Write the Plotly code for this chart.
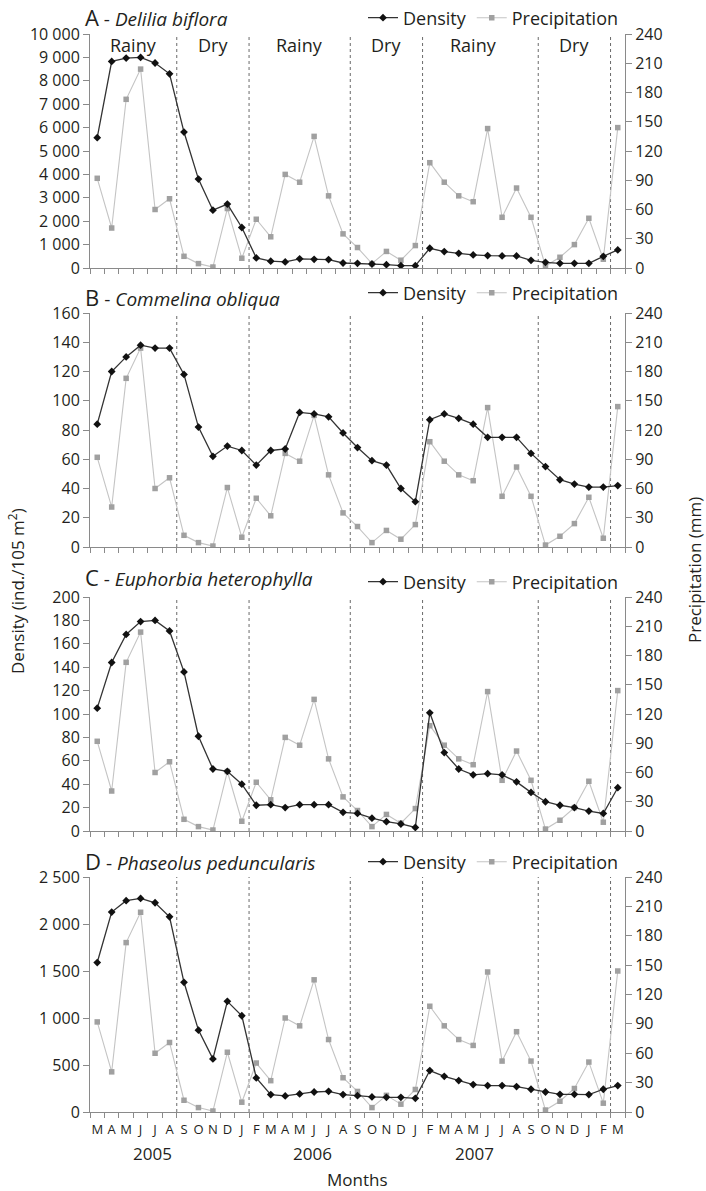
import plotly.graph_objects as go

# ---------------- data ----------------
month_labels = ["M", "A", "M", "J", "J", "A", "S", "O", "N", "D", "J", "F",
                "M", "A", "M", "J", "J", "A", "S", "O", "N", "D", "J", "F",
                "M", "A", "M", "J", "J", "A", "S", "O", "N", "D", "J", "F", "M"]
years = ["2005", "2006", "2007"]
year_pos = [3.8, 14.9, 26.1]

precipitation = [92, 41, 173, 204, 60, 71, 12, 4.5, 1, 61, 10, 50, 32, 96, 88, 135, 74, 35,
                 21, 4.5, 17, 8, 23, 108, 88, 74, 68, 143, 52, 82, 52, 2, 11, 24, 51, 9, 144]

density_a = [5570, 8830, 8970, 9000, 8760, 8300, 5810, 3800, 2470, 2730, 1730, 430, 290, 260,
             390, 370, 360, 214, 200, 171, 143, 100, 100, 843, 700, 629, 557, 529, 514, 514,
             329, 243, 200, 200, 200, 500, 771]
density_b = [84, 120, 130, 138, 136, 136, 118, 82, 62, 69, 66, 56, 66, 67, 92, 91, 89, 78, 68,
             59, 56, 40, 31, 87, 91, 88, 84, 75, 75, 75, 64, 55, 46, 43, 41, 41, 42]
density_c = [105, 144, 168, 179, 180, 171, 136, 81, 53, 51, 40, 22, 22.5, 20, 22.5, 22.5, 22.5,
             16, 15, 11, 8, 6, 3, 101, 67, 53, 48, 49, 48, 42, 33, 25, 22, 20, 17, 15, 37]
density_d = [1590, 2127, 2248, 2272, 2226, 2077, 1380, 871, 565, 1177, 1024, 363, 185, 171, 192,
             213, 220, 185, 174, 160, 156, 156, 146, 441, 380, 334, 292, 281, 281, 270, 242,
             213, 188, 188, 185, 242, 281]

panel_letters = ["A", "B", "C", "D"]
species = ["Delilia biflora", "Commelina obliqua", "Euphorbia heterophylla", "Phaseolus peduncularis"]
densities = [density_a, density_b, density_c, density_d]
density_max = [10000, 160, 200, 2500]
density_step = [1000, 20, 20, 500]
precip_max = 240
precip_step = 30

season_names = ["Rainy", "Dry", "Rainy", "Dry", "Rainy", "Dry"]
season_pos = [2.5, 8, 14, 20, 26, 33]
season_bounds = [5.5, 10.5, 17.5, 22.5, 30.5, 35.5]

# ---------------- layout geometry ----------------
W, H = 706, 1191
panel_px = [(34, 268), (313, 547), (597, 831), (877, 1112)]  # top, bottom in px
title_px = [17, 297, 577, 861]
legend_px = [18, 293, 582, 862]

def py(px):
    return 1 - px / H

def pxx(px):
    return (px - 90) / 535

FONT = "Open Sans"
TXT = "#231f20"
AX = "#8a8a8a"

x = list(range(len(month_labels)))
fig = go.Figure()
layout = dict(
    width=W, height=H,
    margin=dict(l=90, r=81, t=0, b=0, autoexpand=False),
    plot_bgcolor="white", paper_bgcolor="white",
    font=dict(family=FONT, color=TXT, size=15),
    separators=". ",
    showlegend=True,
)
annotations = []
shapes = []

for k in range(4):
    xa = "x" if k == 0 else f"x{k+1}"
    yp_n = 2 * k + 1
    yd_n = 2 * k + 2
    yp = "y" if yp_n == 1 else f"y{yp_n}"
    yd = f"y{yd_n}"
    leg = "legend" if k == 0 else f"legend{k+1}"
    top, bot = panel_px[k]
    dom = [py(bot), py(top)]

    layout[("xaxis" if k == 0 else f"xaxis{k+1}")] = dict(
        domain=[0, 1], anchor=yp, range=[-0.5, len(x) - 0.5], automargin=False,
        showline=True, linecolor=AX, linewidth=1, showgrid=False, zeroline=False,
        tickmode="array", tickvals=x, ticktext=month_labels,
        ticks="outside", ticklen=5, tickcolor="rgba(0,0,0,0)",
        showticklabels=(k == 3),
        tickfont=dict(size=13, color=TXT, family=FONT),
        minor=dict(tickmode="linear", tick0=-0.5, dtick=1, ticks="outside",
                   ticklen=5, tickcolor=AX, showgrid=False),
    )
    layout[("yaxis" if yp_n == 1 else f"yaxis{yp_n}")] = dict(
        domain=dom, anchor=xa, side="right", range=[0, precip_max], automargin=False,
        tickmode="linear", tick0=0, dtick=precip_step,
        showline=True, linecolor=AX, linewidth=1, showgrid=False, zeroline=False,
        ticks="outside", ticklen=6, tickcolor=AX,
        tickfont=dict(size=16, color=TXT, family=FONT),
    )
    layout[f"yaxis{yd_n}"] = dict(
        overlaying=yp, anchor=xa, side="left", range=[0, density_max[k]], automargin=False,
        tickmode="linear", tick0=0, dtick=density_step[k], tickformat=",d",
        showline=True, linecolor=AX, linewidth=1, showgrid=False, zeroline=False,
        ticks="outside", ticklen=6, tickcolor=AX,
        tickfont=dict(size=16, color=TXT, family=FONT),
    )
    layout[leg] = dict(
        orientation="h", x=pxx(624), xanchor="right", y=py(legend_px[k]), yanchor="middle",
        font=dict(size=18, color=TXT, family=FONT), bgcolor="rgba(0,0,0,0)",
        itemwidth=30, tracegroupgap=0, traceorder="normal",
    )

    fig.add_trace(go.Scatter(
        x=x, y=densities[k], name="Density", mode="lines+markers",
        line=dict(color="#333333", width=1.3),
        marker=dict(symbol="diamond", size=6, color="#111111"),
        xaxis=xa, yaxis=yd, legend=leg,
    ))
    fig.add_trace(go.Scatter(
        x=x, y=precipitation, name="Precipitation", mode="lines+markers",
        line=dict(color="#c4c4c4", width=1.1),
        marker=dict(symbol="square", size=5.5, color="#a0a0a0"),
        xaxis=xa, yaxis=yp, legend=leg,
    ))

    for b in season_bounds:
        shapes.append(dict(type="line", xref=xa, yref=f"{yp} domain", x0=b, x1=b, y0=0, y1=1,
                           line=dict(color="#6a6a6a", width=1, dash="dot"), layer="below"))

    annotations.append(dict(
        text=f"<span style='font-size:22px'>{panel_letters[k]}</span> - <i>{species[k]}</i>",
        xref="paper", yref="paper", x=pxx(83), y=py(title_px[k]), xanchor="left", yanchor="middle",
        showarrow=False, font=dict(size=19, color=TXT, family=FONT),
    ))

# season labels (panel A only)
for name, pos in zip(season_names, season_pos):
    annotations.append(dict(text=name, xref="x", yref="paper", x=pos, y=py(45),
                            xanchor="center", yanchor="middle", showarrow=False,
                            font=dict(size=18, color=TXT, family=FONT)))

# year labels
for yr, pos in zip(years, year_pos):
    annotations.append(dict(text=yr, xref="x4", yref="paper", x=pos, y=py(1153),
                            xanchor="center", yanchor="middle", showarrow=False,
                            font=dict(size=17, color=TXT, family=FONT)))

annotations.append(dict(text="Months", xref="paper", yref="paper", x=0.5, y=py(1179),
                        xanchor="center", yanchor="middle", showarrow=False,
                        font=dict(size=17, color=TXT, family=FONT)))
annotations.append(dict(text="Density (ind./105 m<sup>2</sup>)", xref="paper", yref="paper",
                        x=pxx(16), y=py(591), xanchor="center", yanchor="middle",
                        textangle=-90, showarrow=False,
                        font=dict(size=17, color=TXT, family=FONT)))
annotations.append(dict(text="Precipitation (mm)", xref="paper", yref="paper",
                        x=pxx(694), y=py(570), xanchor="center", yanchor="middle",
                        textangle=-90, showarrow=False,
                        font=dict(size=17, color=TXT, family=FONT)))

layout["annotations"] = annotations
layout["shapes"] = shapes
fig.update_layout(**layout)

page_js = (
    "var d=document.getElementById('{plot_id}');"
    "d.style.position='absolute';d.style.top='0px';d.style.left='0px';"
    "document.body.style.margin='0';document.body.style.padding='0';"
    "document.documentElement.style.height='1191px';document.body.style.height='1191px';"
    "document.documentElement.style.overflow='hidden';document.body.style.overflow='hidden';"
)
fig.write_html("out.html", config={"displayModeBar": False}, post_script=page_js)
